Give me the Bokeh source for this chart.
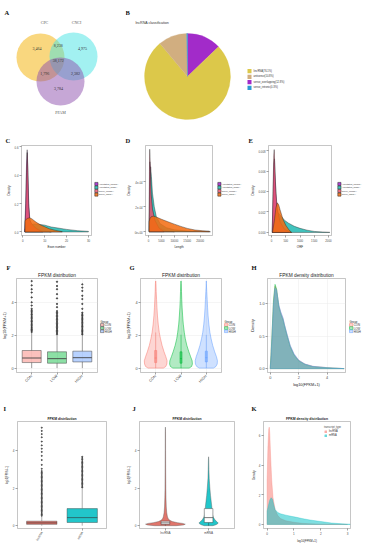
import math
from bokeh.plotting import figure
from bokeh.layouts import column, row
from bokeh.models import (Range1d, FixedTicker, Label, Legend, LegendItem, Title,
                          CustomJSTickFormatter, NumeralTickFormatter)
from bokeh.embed import file_html
from bokeh.resources import INLINE
from bokeh.core.properties import value

# ====================== DATA ======================
venn_sets = ["CPC", "CNCI", "PFAM"]
# CPC only, CPC&CNCI, CNCI only, all three, CPC&PFAM, CNCI&PFAM, PFAM only
venn_counts = [3464, 8238, 4975, 38172, 1796, 2382, 3784]

lnc_classes = ["lincRNA", "antisense", "sense_overlapping", "sense_intronic"]
lnc_pct = [76.1, 10.8, 12.8, 0.3]

tx_types = ["Annotated_lncRNA", "Annotated_mRNA", "Novel_lncRNA", "Novel_mRNA"]

# C: exon number densities
exon_ann_lnc_x = [0.8, 1.3, 1.7, 2.0, 2.3, 2.7, 3.2, 4.0, 6.0, 9.0, 13.0]
exon_ann_lnc_y = [0.0, 0.20, 0.48, 0.58, 0.45, 0.20, 0.09, 0.05, 0.03, 0.01, 0.0]
exon_ann_m_x = [1.0, 2.0, 3.0, 5.0, 7.0, 10.0, 13.0, 16.0, 20.0, 25.0, 30.0]
exon_ann_m_y = [0.02, 0.04, 0.05, 0.057, 0.055, 0.048, 0.035, 0.028, 0.018, 0.009, 0.004]
exon_nov_lnc_x = [0.9, 1.3, 1.7, 2.0, 2.3, 2.7, 3.2, 4.0, 5.0, 6.5, 9.0]
exon_nov_lnc_y = [0.0, 0.15, 0.42, 0.56, 0.42, 0.18, 0.08, 0.06, 0.04, 0.02, 0.0]
exon_nov_m_x = [1.0, 2.0, 3.0, 4.0, 6.0, 8.0, 10.0, 12.0, 15.0, 18.0]
exon_nov_m_y = [0.08, 0.095, 0.1, 0.094, 0.07, 0.05, 0.037, 0.023, 0.011, 0.002]

# D: length densities
len_ann_lnc_x = [200, 350, 500, 700, 1000, 1500, 2500, 4000, 7000, 10000]
len_ann_lnc_y = [0, 3.6e-4, 5.6e-4, 5.0e-4, 3.4e-4, 1.9e-4, 0.9e-4, 0.35e-4, 0.08e-4, 0]
len_ann_m_x = [200, 500, 800, 1100, 1500, 2200, 3000, 4500, 7000, 10000, 15000, 20000, 24000]
len_ann_m_y = [0, 3.0e-4, 5.2e-4, 4.4e-4, 3.1e-4, 2.0e-4, 1.2e-4, 0.65e-4, 0.32e-4, 0.16e-4, 0.06e-4, 0.02e-4, 0]
len_nov_lnc_x = [200, 330, 430, 550, 750, 1000, 1500, 2500, 4000, 6000]
len_nov_lnc_y = [0, 4.8e-4, 6.6e-4, 6.0e-4, 4.4e-4, 3.0e-4, 1.8e-4, 0.9e-4, 0.3e-4, 0]
len_nov_m_x = [200, 500, 1000, 2000, 3000, 5000, 7500, 10000, 12500, 15000, 18000, 21000, 23600]
len_nov_m_y = [0.8e-4, 1.05e-4, 1.2e-4, 1.25e-4, 1.18e-4, 1.0e-4, 0.8e-4, 0.61e-4, 0.43e-4, 0.27e-4, 0.14e-4, 0.08e-4, 0.05e-4]

# E: ORF densities
orf_ann_lnc_x = [20, 50, 80, 100, 130, 170, 250, 400, 600]
orf_ann_lnc_y = [0, 0.0035, 0.0068, 0.0072, 0.005, 0.003, 0.0015, 0.0005, 0]
orf_ann_m_x = [30, 100, 200, 300, 450, 600, 800, 1000, 1250, 1500, 1800, 2050]
orf_ann_m_y = [0, 0.0016, 0.002, 0.0017, 0.0012, 0.0009, 0.0006, 0.0004, 0.00022, 0.0001, 0.00004, 0.00001]
orf_nov_lnc_x = [20, 50, 75, 92, 110, 150, 200, 300, 450, 700]
orf_nov_lnc_y = [0, 0.004, 0.0075, 0.0081, 0.0066, 0.004, 0.0022, 0.001, 0.0003, 0]
orf_nov_m_x = [30, 100, 150, 200, 250, 300, 400, 500, 600, 700]
orf_nov_m_y = [0, 0.0012, 0.0024, 0.0029, 0.0027, 0.0022, 0.0013, 0.0007, 0.0003, 0]

# F/G: FPKM by group
groups = ["CON", "LOW", "HIGH"]
fpkm_q1 = [0.34, 0.30, 0.38]
fpkm_med = [0.62, 0.58, 0.64]
fpkm_q3 = [1.08, 1.00, 1.04]
fpkm_lo = [0.0, 0.0, 0.0]
fpkm_hi = [2.19, 2.05, 2.04]
fpkm_out_con = [2.22, 2.3, 2.37, 2.45, 2.52, 2.6, 2.69, 2.77, 2.86, 2.94, 3.03, 3.12,
                3.2, 3.29, 3.38, 3.46, 3.55, 3.64, 3.84, 4.04, 4.34, 4.64, 4.84, 5.08, 5.34]
fpkm_out_low = [2.08, 2.16, 2.24, 2.31, 2.4, 2.48, 2.57, 2.65, 2.73, 2.82, 2.9, 2.99,
                3.07, 3.16, 3.24, 3.33, 3.41, 3.5, 3.74, 3.94, 4.28, 4.54, 4.84, 5.04, 5.3]
fpkm_out_high = [2.07, 2.15, 2.23, 2.3, 2.39, 2.47, 2.56, 2.64, 2.72, 2.81, 2.89, 2.97,
                 3.06, 3.14, 3.23, 3.31, 3.4, 3.64, 3.94, 4.24, 4.44, 4.74, 4.94, 5.14]

vio_y = [0.0, 0.1, 0.25, 0.45, 0.7, 1.0, 1.4, 1.8, 2.2, 2.7, 3.2, 3.7, 4.2, 4.7, 5.2, 5.35]
vio_hw_con = [0.30, 0.40, 0.44, 0.45, 0.40, 0.33, 0.25, 0.19, 0.14, 0.10, 0.07, 0.05, 0.035, 0.02, 0.01, 0.0]
vio_hw_low = [0.32, 0.42, 0.45, 0.44, 0.38, 0.31, 0.23, 0.17, 0.13, 0.09, 0.065, 0.045, 0.03, 0.02, 0.008, 0.0]
vio_hw_high = [0.28, 0.38, 0.43, 0.44, 0.40, 0.33, 0.25, 0.19, 0.14, 0.10, 0.07, 0.05, 0.035, 0.018, 0.0, 0.0]

# H: FPKM density by group
dens_x = [0.0, 0.05, 0.11, 0.22, 0.33, 0.44, 0.6, 0.73, 0.9, 1.0, 1.18, 1.4, 1.67, 2.0, 2.44, 3.0, 4.0, 5.2]
dens_con = [0.03, 0.2, 0.47, 1.02, 1.27, 1.22, 0.97, 0.87, 0.77, 0.67, 0.52, 0.35, 0.22, 0.13, 0.07, 0.035, 0.015, 0.0]
dens_low = [0.04, 0.22, 0.5, 1.05, 1.3, 1.23, 0.96, 0.85, 0.75, 0.66, 0.51, 0.34, 0.21, 0.12, 0.065, 0.03, 0.012, 0.0]
dens_high = [0.02, 0.18, 0.44, 0.98, 1.24, 1.21, 0.98, 0.88, 0.78, 0.68, 0.53, 0.36, 0.23, 0.13, 0.07, 0.035, 0.015, 0.0]

# I/J: lncRNA vs mRNA
tx2 = ["lncRNA", "mRNA"]
tx_q1 = [0.07, 0.17]
tx_med = [0.15, 0.43]
tx_q3 = [0.24, 0.91]
tx_lo = [0.0, 0.0]
tx_hi = [0.5, 2.0]
tx_out_lnc = [0.53, 0.6, 0.67, 0.74, 0.81, 0.88, 0.95, 1.02, 1.09, 1.16, 1.23, 1.3, 1.37,
              1.44, 1.51, 1.58, 1.65, 1.72, 1.79, 1.86, 1.93, 2.0, 2.07, 2.14, 2.21, 2.28,
              2.35, 2.42, 2.49, 2.56, 2.63, 2.7, 2.77, 2.84, 2.91, 3.03, 3.24, 3.5, 3.72,
              3.93, 4.1, 4.28, 4.48, 4.71, 4.88, 5.05, 5.22]
tx_out_m = [2.04, 2.11, 2.18, 2.25, 2.32, 2.39, 2.46, 2.53, 2.6, 2.67, 2.74, 2.81, 2.88,
            2.95, 3.02, 3.09, 3.16, 3.23, 3.3, 3.37, 3.44, 3.52, 3.6, 3.67]

vio2_lnc_y = [0.0, 0.04, 0.08, 0.12, 0.16, 0.22, 0.3, 0.4, 0.5, 0.7, 1.0, 1.5, 2.0, 3.0, 4.0, 5.0, 5.25]
vio2_lnc_hw = [0.25, 0.42, 0.46, 0.40, 0.28, 0.16, 0.09, 0.06, 0.045, 0.03, 0.02, 0.013, 0.009, 0.006, 0.004, 0.003, 0.0]
vio2_m_y = [0.0, 0.05, 0.1, 0.15, 0.2, 0.3, 0.45, 0.6, 0.8, 1.0, 1.3, 1.6, 2.0, 2.5, 3.0, 3.5, 3.67]
vio2_m_hw = [0.1, 0.17, 0.21, 0.22, 0.2, 0.15, 0.11, 0.09, 0.08, 0.075, 0.06, 0.045, 0.03, 0.015, 0.008, 0.004, 0.0]

# K: density lncRNA vs mRNA
k_lnc_x = [0.0, 0.03, 0.06, 0.08, 0.1, 0.13, 0.17, 0.22, 0.3, 0.4, 0.5, 0.7, 1.0, 1.3, 1.6, 2.0, 2.5, 3.0]
k_lnc_y = [3.0, 5.2, 6.4, 6.55, 6.1, 4.6, 3.0, 1.8, 1.0, 0.6, 0.4, 0.25, 0.15, 0.08, 0.05, 0.02, 0.008, 0.0]
k_m_x = [0.0, 0.05, 0.1, 0.15, 0.2, 0.25, 0.3, 0.4, 0.5, 0.7, 0.9, 1.1, 1.3, 1.6, 2.0, 2.4, 2.8, 3.1]
k_m_y = [0.9, 1.3, 1.65, 1.8, 1.7, 1.3, 1.0, 0.8, 0.72, 0.63, 0.55, 0.48, 0.4, 0.3, 0.2, 0.1, 0.045, 0.02]

# ====================== LAYOUT HELPERS ======================
# Bokeh's page template has no body margin, so reference pixels map 1:1.
SX = 1.0
SY = 1.0
SANS = "Liberation Sans"
SERIF = "Liberation Serif"
LET = 6.5  # panel letter size


def rx(v):
    return round(v * SX)


def ry(v):
    return round(v * SY)


def panel(box, frame=None, xr=(0, 1), yr=(0, 1), axes=True):
    if frame is None:
        frame = box
    px0, py0, px1, py1 = box
    fx0, fy0, fx1, fy1 = frame
    w = rx(px1) - rx(px0)
    h = ry(py1) - ry(py0)
    left = rx(fx0) - rx(px0)
    fw = rx(fx1) - rx(fx0)
    top = ry(fy0) - ry(py0)
    fh = ry(fy1) - ry(fy0)
    right = w - left - fw
    bottom = h - top - fh
    kw = {}
    if not axes:
        kw = dict(x_axis_type=None, y_axis_type=None)
    p = figure(width=w, height=h, x_range=Range1d(*xr), y_range=Range1d(*yr),
               output_backend="svg", toolbar_location=None,
               min_border_left=left, min_border_right=right,
               min_border_top=top, min_border_bottom=bottom, **kw)
    p.title = None
    p.background_fill_color = "white"
    p.border_fill_color = "white"
    if not axes:
        p.outline_line_color = None
    g = dict(px0=px0, py0=py0, left=left, top=top, fh=fh, fw=fw, fx0=fx0, fy0=fy0)
    return p, g


def put(p, g, x, y, text, size, color="#333333", font=SANS, style="normal",
        align="left", baseline="middle"):
    sx = x * SX - rx(g["px0"]) - g["left"]
    sy = g["top"] + g["fh"] - (y * SY - ry(g["py0"]))
    p.add_layout(Label(x=sx, y=sy, x_units="screen", y_units="screen", text=text,
                       text_font_size=f"{size}px", text_color=color, text_font=font,
                       text_font_style=style, text_align=align, text_baseline=baseline))


def title_above(p, g, text, size, align="left", x=None, standoff=0, style="normal",
                font=SANS, color="#222222"):
    off = 0
    if align == "left" and x is not None:
        off = (x - g["fx0"]) * SX
    p.add_layout(Title(text=text, align=align, offset=off, standoff=standoff,
                       text_font_size=f"{size}px", text_font_style=style,
                       text_font=font, text_color=color), "above")


def letter(p, g, t, x, standoff):
    title_above(p, g, t, LET, x=x, standoff=standoff, font=SERIF, style="bold", color="#111111")


def style_axes(p, tick_fs, lab_fs, xlabel, ylabel, grid=False):
    for ax in p.axis:
        ax.axis_line_color = None
        ax.major_tick_line_color = "#444444"
        ax.major_tick_line_width = 0.5
        ax.major_tick_out = 2
        ax.major_tick_in = 0
        ax.minor_tick_line_color = None
        ax.major_label_text_font_size = f"{tick_fs}px"
        ax.major_label_text_color = "#4D4D4D"
        ax.major_label_text_font = SANS
        ax.major_label_standoff = 1
        ax.axis_label_text_font_size = f"{lab_fs}px"
        ax.axis_label_text_font_style = "normal"
        ax.axis_label_text_font = SANS
        ax.axis_label_text_color = "#222222"
        ax.axis_label_standoff = 1
    p.xaxis.axis_label = xlabel
    p.yaxis.axis_label = ylabel
    p.outline_line_color = "#A0A0A0"
    p.outline_line_width = 0.6
    if grid:
        p.grid.grid_line_color = "#EBEBEB"
        p.grid.grid_line_width = 0.5
    else:
        p.grid.visible = False


def legend_fig(x0, x1, py0, py1, sw_x, sw_w, sw_h, rows_y, labels, fills, alphas,
               lines, fs, title=None, title_y=None):
    p = figure(width=rx(x1) - rx(x0), height=ry(py1) - ry(py0),
               x_range=Range1d(x0, x1), y_range=Range1d(-py1, -py0),
               x_axis_type=None, y_axis_type=None, output_backend="svg",
               toolbar_location=None, min_border=0)
    p.title = None
    p.outline_line_color = None
    p.background_fill_color = "white"
    p.border_fill_color = "white"
    n = len(labels)
    p.rect(x=[sw_x + sw_w / 2] * n, y=[-v for v in rows_y], width=sw_w, height=sw_h,
           fill_color=fills, fill_alpha=alphas, line_color=lines, line_width=0.5)
    p.text(x=[sw_x + sw_w + 0.8] * n, y=[-v for v in rows_y], text=labels,
           text_font=value(SANS), text_font_size=f"{fs}px", text_color="#333333",
           text_baseline="middle")
    if title:
        p.text(x=[sw_x], y=[-title_y], text=[title], text_font=value(SANS),
               text_font_size=f"{fs}px", text_color="#222222", text_baseline="middle")
    return p


def area(p, xs, ys, color, alpha, line="#222222", lw=0.4):
    return p.patch(x=list(xs) + [xs[-1], xs[0]], y=list(ys) + [0, 0],
                   fill_color=color, fill_alpha=alpha, line_color=line, line_width=lw)


def violin(p, xc, ys, hws, color, alpha, line, lw=0.5):
    xs = [xc - h for h in hws] + [xc + h for h in reversed(hws)]
    yy = list(ys) + list(reversed(ys))
    return p.patch(x=xs, y=yy, fill_color=color, fill_alpha=alpha, line_color=line, line_width=lw)


def boxes(p, q1, med, q3, lo, hi, width, fills, alpha, lines, lw=0.5, med_w=0.9):
    rs = []
    for i in range(len(q1)):
        xc = i + 1
        p.segment(x0=[xc, xc], y0=[q3[i], lo[i]], x1=[xc, xc], y1=[hi[i], q1[i]],
                  line_color=lines[i], line_width=lw)
        r = p.quad(left=xc - width / 2, right=xc + width / 2, bottom=q1[i], top=q3[i],
                   fill_color=fills[i], fill_alpha=alpha, line_color=lines[i], line_width=lw)
        p.segment(x0=xc - width / 2, y0=med[i], x1=xc + width / 2, y1=med[i],
                  line_color=lines[i], line_width=med_w)
        rs.append(r)
    return rs


# ====================== PANEL A: Venn ======================
pA, gA = panel((0, 0, 125, 133), xr=(0, 125), yr=(-133, 0), axes=False)
venn_cx = [40, 73, 60]
venn_cy = [57, 56, 81]
venn_r = 24
venn_cols = ["#F3AF00", "#45E3E3", "#8D4FAD"]
pA.circle(x=venn_cx, y=[-v for v in venn_cy], radius=venn_r, fill_color=venn_cols,
          fill_alpha=0.5, line_color=None)
reg_x = [36.5, 57.7, 82, 57.7, 44.3, 75, 58]
reg_y = [48, 44.5, 48, 60, 73, 73, 88]
pA.text(x=reg_x, y=[-v for v in reg_y], text=[f"{c:,}" for c in venn_counts],
        text_font=value(SERIF), text_font_size="4px", text_color="#333333",
        text_align="center", text_baseline="middle")
lab_x = [44, 76, 60]
lab_y = [22, 22, 112]
pA.text(x=lab_x, y=[-v for v in lab_y], text=venn_sets, text_font=value(SERIF),
        text_font_size="4px", text_color="#555555", text_align="center", text_baseline="middle")
put(pA, gA, 4, 12, "A", LET, color="#111111", font=SERIF, style="bold")

# ====================== PANEL B: pie ======================
pB, gB = panel((125, 0, 372, 133), xr=(125, 372), yr=(-133, 0), axes=False)
pie_cols = {"lincRNA": "#DCC84A", "antisense": "#D1AE80",
            "sense_overlapping": "#A22BC9", "sense_intronic": "#2C9AD2"}
pie_order = ["sense_overlapping", "lincRNA", "antisense", "sense_intronic"]
ang = math.pi / 2
for name in pie_order:
    frac = lnc_pct[lnc_classes.index(name)] / sum(lnc_pct)
    a1 = ang - frac * 2 * math.pi
    pB.wedge(x=187, y=-76, radius=43, start_angle=a1, end_angle=ang,
             fill_color=pie_cols[name], line_color=pie_cols[name], line_width=0.3)
    ang = a1
leg_y = [70.7, 76.3, 81.7, 87.3]
pB.rect(x=[249] * 4, y=[-v for v in leg_y], width=4, height=4.2,
        fill_color=[pie_cols[c] for c in lnc_classes], line_color=None)
pB.text(x=[253] * 4, y=[-v for v in leg_y],
        text=[f"{c}({v}%)" for c, v in zip(lnc_classes, lnc_pct)],
        text_font=value(SANS), text_font_size="2.6px", text_color="#333333",
        text_baseline="middle")
pB.text(x=[135], y=[-22], text=["lncRNA classification"], text_font=value(SANS),
        text_font_size="3.6px", text_color="#333333", text_baseline="middle")
put(pB, gB, 125, 12, "B", LET, color="#111111", font=SERIF, style="bold")

# ====================== PANELS C, D, E: densities ======================
dcols = ["#9C1FC9", "#20B8B2", "#E8566E", "#F26B0F"]


def dens_panel(box, frame, xr, yr, curves, xticks, yticks, yfmt, xlabel, let, let_x):
    p, g = panel(box, frame, xr, yr)
    for (xs, ys), c in zip(curves, dcols):
        area(p, xs, ys, c, 0.85)
    style_axes(p, 2.8, 3.0, xlabel, "Density")
    p.xaxis.ticker = FixedTicker(ticks=xticks)
    p.yaxis.ticker = FixedTicker(ticks=yticks)
    p.yaxis.formatter = yfmt
    letter(p, g, let, let_x, 3)
    return p


def dens_legend(x0, x1, sw_x):
    return legend_fig(x0, x1, 133, 253, sw_x, 3.2, 4.2, [184.3, 189, 193.7, 198.4],
                      tx_types, dcols, [0.85] * 4, ["#222222"] * 4, 2.3)


pC = dens_panel((0, 133, 93, 253), (21, 145, 91, 237), (-0.6, 31.4), (-0.025, 0.61),
                [(exon_ann_lnc_x, exon_ann_lnc_y), (exon_ann_m_x, exon_ann_m_y),
                 (exon_nov_lnc_x, exon_nov_lnc_y), (exon_nov_m_x, exon_nov_m_y)],
                [0, 10, 20, 30], [0, 0.2, 0.4, 0.6], NumeralTickFormatter(format="0.0"),
                "Exon number", "C", 5)
lC = dens_legend(93, 124, 94.3)

exp_fmt = CustomJSTickFormatter(code=r"""
var s = tick.toExponential(0);
return s.replace(/e([+-])(\d)$/, 'e$10$2');
""")
pD = dens_panel((124, 133, 214, 253), (145, 145, 212, 235), (-1200, 24800), (-0.3e-4, 6.9e-4),
                [(len_ann_lnc_x, len_ann_lnc_y), (len_ann_m_x, len_ann_m_y),
                 (len_nov_lnc_x, len_nov_lnc_y), (len_nov_m_x, len_nov_m_y)],
                [0, 5000, 10000, 15000, 20000], [0, 2e-4, 4e-4], exp_fmt,
                "Length", "D", 125)
lD = dens_legend(214, 248, 217.3)

pE = dens_panel((248, 133, 333, 253), (265, 145, 331, 237), (-110, 2110), (-0.0003, 0.0085),
                [(orf_ann_lnc_x, orf_ann_lnc_y), (orf_ann_m_x, orf_ann_m_y),
                 (orf_nov_lnc_x, orf_nov_lnc_y), (orf_nov_m_x, orf_nov_m_y)],
                [0, 500, 1000, 1500, 2000], [0, 0.002, 0.004, 0.006, 0.008],
                NumeralTickFormatter(format="0.000"), "ORF", "E", 245)
lE = dens_legend(333, 372, 337.3)

# ====================== PANEL F: boxplot ======================
gcols = ["#F8766D", "#00BA38", "#619CFF"]
cat_over = {i + 1: n for i, n in enumerate(groups)}
grp_rows = [321.7, 326.3, 331]

pF, gF = panel((0, 253, 99, 392), (13, 278, 97, 372), (0.4, 3.6), (-0.27, 5.5))
style_axes(pF, 3.8, 3.8, "", "log10(FPKM+1)", grid=True)
boxes(pF, fpkm_q1, fpkm_med, fpkm_q3, fpkm_lo, fpkm_hi, 0.75, gcols, 0.45, ["#444444"] * 3)
for i, outs in enumerate([fpkm_out_con, fpkm_out_low, fpkm_out_high]):
    pF.scatter(x=[i + 1] * len(outs), y=outs, size=1.3, color="#333333", alpha=0.8)
pF.xaxis.ticker = FixedTicker(ticks=[1, 2, 3])
pF.xaxis.major_label_overrides = cat_over
pF.xaxis.major_label_orientation = math.pi / 4
pF.yaxis.ticker = FixedTicker(ticks=[0, 2, 4])
title_above(pF, gF, "FPKM distribution", 4.8, align="center", standoff=1)
letter(pF, gF, "F", 3, 0)
lF = legend_fig(99, 124, 253, 392, 100, 3.4, 4.0, grp_rows, groups, gcols, [0.45] * 3,
                ["#444444"] * 3, 2.8, title="Group", title_y=317.3)

# ====================== PANEL G: violin ======================
pG, gG = panel((124, 253, 223, 392), (137, 278, 221, 372), (0.4, 3.6), (-0.27, 5.5))
style_axes(pG, 3.8, 3.8, "", "log10(FPKM+1)", grid=True)
for i, hw in enumerate([vio_hw_con, vio_hw_low, vio_hw_high]):
    violin(pG, i + 1, vio_y, hw, gcols[i], 0.3, gcols[i], 0.5)
boxes(pG, fpkm_q1, fpkm_med, fpkm_q3, fpkm_lo, fpkm_hi, 0.08, gcols, 0.6, gcols, 0.5, 0.6)
pG.xaxis.ticker = FixedTicker(ticks=[1, 2, 3])
pG.xaxis.major_label_overrides = cat_over
pG.xaxis.major_label_orientation = math.pi / 4
pG.yaxis.ticker = FixedTicker(ticks=[0, 2, 4])
title_above(pG, gG, "FPKM distribution", 4.8, align="center", standoff=1)
letter(pG, gG, "G", 126, 0)
lG = legend_fig(223, 248, 253, 392, 224, 3.4, 4.0, grp_rows, groups, gcols, [0.35] * 3,
                gcols, 2.8, title="Group", title_y=317.3)

# ====================== PANEL H: density ======================
pH, gH = panel((248, 253, 347, 392), (265, 276, 345, 372), (-0.2, 5.3), (-0.06, 1.39))
style_axes(pH, 3.8, 3.8, "log10(FPKM+1)", "Density", grid=True)
for i, ys in enumerate([dens_con, dens_low, dens_high]):
    area(pH, dens_x, ys, gcols[i], 0.4, line=gcols[i], lw=0.4)
pH.xaxis.ticker = FixedTicker(ticks=[0, 2, 4])
pH.yaxis.ticker = FixedTicker(ticks=[0, 0.5, 1.0])
pH.yaxis.formatter = NumeralTickFormatter(format="0.0")
title_above(pH, gH, "FPKM density distribution", 4.8, align="center", standoff=1)
letter(pH, gH, "H", 249, 0)
lH = legend_fig(347, 372, 253, 392, 349, 3.4, 4.0, grp_rows, groups, gcols, [0.3] * 3,
                gcols, 2.8, title="Group", title_y=317.3)

# ====================== PANEL I: boxplot lnc vs mRNA ======================
tcols = ["#E0756B", "#22C6CA"]
tx_over = {i + 1: n for i, n in enumerate(tx2)}
pI, gI = panel((0, 392, 124, 550), (17, 421, 106, 530), (0.4, 2.6), (-0.15, 5.55))
style_axes(pI, 3.0, 2.6, "", "log10(FPKM+1)")
boxes(pI, tx_q1, tx_med, tx_q3, tx_lo, tx_hi, 0.75, tcols, 1.0, ["#333333"] * 2, 0.4, 0.6)
for i, outs in enumerate([tx_out_lnc, tx_out_m]):
    pI.scatter(x=[i + 1] * len(outs), y=outs, size=1.1, color="#333333", alpha=0.8)
pI.xaxis.ticker = FixedTicker(ticks=[1, 2])
pI.xaxis.major_label_overrides = tx_over
pI.xaxis.major_label_orientation = math.pi / 3
pI.yaxis.ticker = FixedTicker(ticks=[0, 2, 4])
title_above(pI, gI, "FPKM distribution", 3.4, align="center", standoff=1, style="bold")
letter(pI, gI, "I", 3, 5)

# ====================== PANEL J: violin lnc vs mRNA ======================
pJ, gJ = panel((124, 392, 248, 550), (134, 421, 234, 530), (0.4, 2.6), (-0.15, 5.55))
style_axes(pJ, 3.0, 2.6, "", "log10(FPKM+1)")
violin(pJ, 1, vio2_lnc_y, vio2_lnc_hw, tcols[0], 1.0, "#555555", 0.4)
violin(pJ, 2, vio2_m_y, vio2_m_hw, tcols[1], 1.0, "#555555", 0.4)
boxes(pJ, tx_q1, tx_med, tx_q3, tx_lo, tx_q3, 0.2, ["white", "white"], 1.0,
      ["#222222"] * 2, 0.4, 0.6)
pJ.xaxis.ticker = FixedTicker(ticks=[1, 2])
pJ.xaxis.major_label_overrides = tx_over
pJ.yaxis.ticker = FixedTicker(ticks=[0, 2, 4])
title_above(pJ, gJ, "FPKM distribution", 3.4, align="center", standoff=1, style="bold")
letter(pJ, gJ, "J", 127, 5)

# ====================== PANEL K: density lnc vs mRNA ======================
pK, gK = panel((248, 392, 372, 550), (261, 420, 350, 528), (-0.135, 3.11), (-0.27, 6.93))
style_axes(pK, 3.0, 2.8, "log10(FPKM+1)", "Density")
rK1 = area(pK, k_lnc_x, k_lnc_y, "#F8766D", 0.5, line="#F8766D", lw=0.3)
rK2 = area(pK, k_m_x, k_m_y, "#00BFC4", 0.5, line="#00BFC4", lw=0.3)
pK.xaxis.ticker = FixedTicker(ticks=[0, 1, 2, 3])
pK.yaxis.ticker = FixedTicker(ticks=[0, 2, 4, 6])
kx = (322 - gK["fx0"]) * SX
ky = gK["fh"] - (437 - gK["fy0"]) * SY
legK = Legend(items=[LegendItem(label=tx2[0], renderers=[rK1]),
                     LegendItem(label=tx2[1], renderers=[rK2])],
              location=(kx, ky), title="transcript_type",
              label_text_font_size="2.6px", label_text_font=SANS, label_text_color="#333333",
              title_text_font_size="2.6px", title_text_font=SANS, title_text_font_style="normal",
              title_standoff=1, glyph_width=3, glyph_height=3, label_height=3, label_width=4,
              spacing=1, padding=0, margin=0, label_standoff=2,
              border_line_color=None, background_fill_alpha=0)
pK.add_layout(legK)
title_above(pK, gK, "FPKM density distribution", 3.4, align="center", standoff=1, style="bold")
letter(pK, gK, "K", 249, 5)

# ====================== ASSEMBLE ======================
layout = column(row(pA, pB),
                row(pC, lC, pD, lD, pE, lE),
                row(pF, lF, pG, lG, pH, lH),
                row(pI, pJ, pK))
open("out.html", "w").write(file_html(layout, INLINE))
